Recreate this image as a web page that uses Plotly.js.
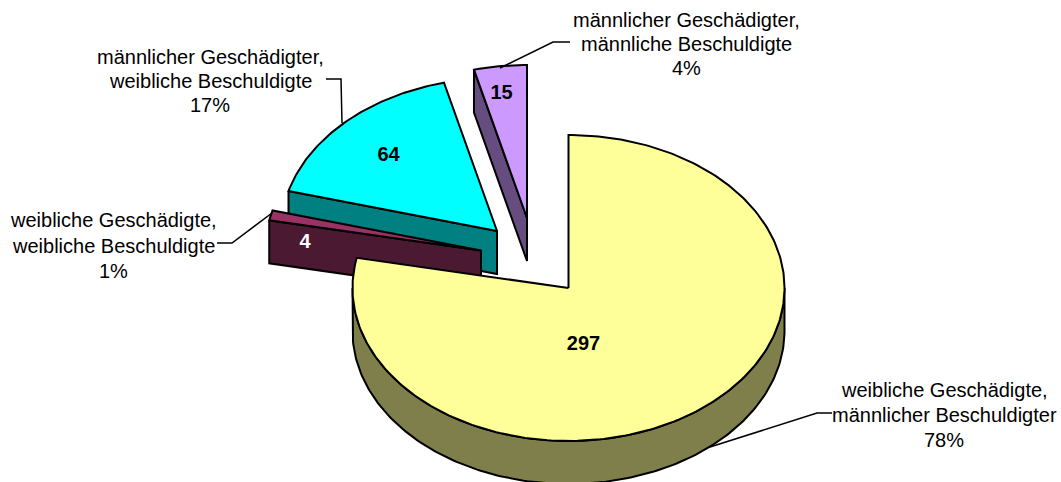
<!DOCTYPE html>
<html>
<head>
<meta charset="utf-8">
<script src="https://cdn.plot.ly/plotly-3.0.1.min.js"></script>
<style>html,body{margin:0;padding:0;background:#fff;overflow:hidden}</style>
</head>
<body>
<div id="chart" style="width:1061px;height:482px"></div>
<script>
// Data
const categories = [
  ["weibliche Geschädigte,", "männlicher Beschuldigter"],
  ["weibliche Geschädigte,", "weibliche Beschuldigte"],
  ["männlicher Geschädigter,", "weibliche Beschuldigte"],
  ["männlicher Geschädigter,", "männliche Beschuldigte"]
];
const values = [297, 4, 64, 15];

// Styles and placement
const topColors  = ["#FFFF99", "#993366", "#00FFFF", "#CC99FF"];
const sideColors = ["#7F7F4C", "#4C1933", "#008080", "#664C7F"];
const valueColors = ["#000000", "#FFFFFF", "#000000", "#000000"];
const apexX = [568.5, 481, 497, 527];
const apexY = [288, 250.5, 231, 218];
const radiusX = 216, radiusY = 153, depth = 43;
const valueX = [583.5, 305, 388.5, 501.5];
const valueY = [345, 243, 156, 94];
const labelX = [944, 113, 210, 686.5];
const labelY = [415, 245.5, 81, 43.5];
const labelPitch = [25, 25.5, 24, 24];
const leaderX = [[832,817,710],[217,232,272],[326,341,342],[570,553,500]];
const leaderY = [[413,413,447],[243,243,213],[79,79,123],[42,42,68]];

const total = values.reduce((a, b) => a + b, 0);
const rad = d => d * Math.PI / 180;
const px = (i, a) => apexX[i] + radiusX * Math.sin(rad(a));
const py = (i, a) => apexY[i] - radiusY * Math.cos(rad(a));

function poly(xs, ys, fill) {
  return {type: "scatter", mode: "lines", x: xs.concat(xs[0]), y: ys.concat(ys[0]),
    fill: "toself", fillcolor: fill, line: {color: "#000", width: 2},
    hoverinfo: "skip", showlegend: false};
}

let start = 0;
const spans = values.map(v => { const s = [start, start + v / total * 360]; start = s[1]; return s; });

const traces = [];
[3, 2, 1, 0].forEach(i => {
  const [a0, a1] = spans[i];
  if (i > 0) {
    const xe = px(i, a0), ye = py(i, a0);
    traces.push(poly([xe, apexX[i], apexX[i], xe], [ye, apexY[i], apexY[i] + depth, ye + depth], sideColors[i]));
  } else {
    const xs = [], ys = [];
    for (let a = 90; a <= 270; a += 1) { xs.push(px(i, a)); ys.push(py(i, a)); }
    for (let a = 270; a >= 90; a -= 1) { xs.push(px(i, a)); ys.push(py(i, a) + depth); }
    traces.push(poly(xs, ys, sideColors[i]));
  }
  const xs = [apexX[i]], ys = [apexY[i]];
  const steps = Math.max(2, Math.ceil(a1 - a0));
  for (let k = 0; k <= steps; k++) {
    const a = a0 + (a1 - a0) * k / steps;
    xs.push(px(i, a)); ys.push(py(i, a));
  }
  traces.push(poly(xs, ys, topColors[i]));
});

leaderX.forEach((lx, i) => traces.push({type: "scatter", mode: "lines", x: lx, y: leaderY[i],
  line: {color: "#000", width: 1.5}, hoverinfo: "skip", showlegend: false}));

traces.push({type: "scatter", mode: "text", x: valueX, y: valueY,
  text: values.map(v => "<b>" + v + "</b>"), textposition: "middle center", cliponaxis: false,
  textfont: {family: "Liberation Sans, Arial, sans-serif", size: 20, color: valueColors},
  hoverinfo: "skip", showlegend: false});

const annotations = [];
categories.forEach((lines, i) => {
  const rows = lines.concat(Math.round(values[i] / total * 100) + "%");
  rows.forEach((t, r) => annotations.push({
    x: labelX[i], y: labelY[i] + (r - 1) * labelPitch[i], xref: "x", yref: "y", showarrow: false,
    xanchor: "center", yanchor: "middle", align: "center", text: t,
    font: {family: "Liberation Sans, Arial, sans-serif", size: 20, color: "#000"}
  }));
});

Plotly.newPlot("chart", traces, {
  width: 1061, height: 482, margin: {l: 0, r: 0, t: 0, b: 0},
  paper_bgcolor: "#fff", plot_bgcolor: "#fff", showlegend: false,
  xaxis: {range: [0, 1061], visible: false, fixedrange: true},
  yaxis: {range: [482, 0], visible: false, fixedrange: true},
  annotations: annotations
}, {displayModeBar: false, staticPlot: true});
</script>
</body>
</html>
